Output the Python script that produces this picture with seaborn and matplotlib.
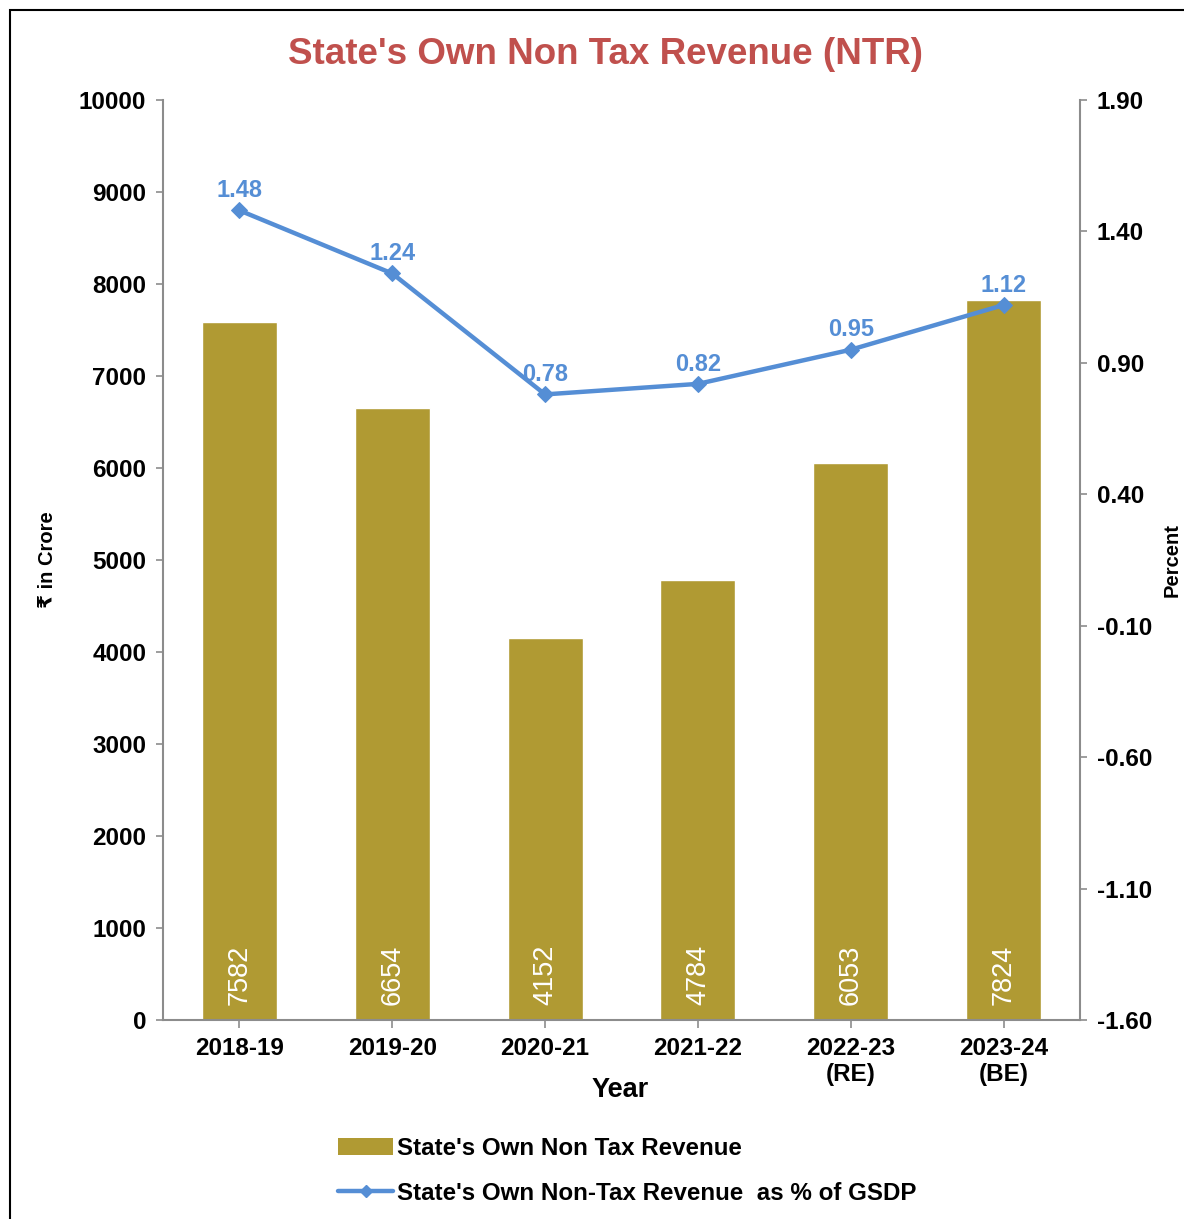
import matplotlib
matplotlib.use("Agg")
import matplotlib.pyplot as plt
import seaborn as sns
import numpy as np
import pandas as pd
from matplotlib.patches import Patch, Rectangle
from matplotlib.lines import Line2D

# data
years = ["2018-19", "2019-20", "2020-21", "2021-22", "2022-23\n(RE)", "2023-24\n(BE)"]
ntr_crore = [7582, 6654, 4152, 4784, 6053, 7824]
ntr_pct_gsdp = [1.48, 1.24, 0.78, 0.82, 0.95, 1.12]

BAR_COLOR = "#B09A33"
LINE_COLOR = "#558ED5"
TITLE_COLOR = "#C0504D"
SPINE_COLOR = "#8C8C8C"

sns.set_theme(style="white")
plt.rcParams["font.family"] = ["Liberation Sans", "DejaVu Sans"]

df = pd.DataFrame({"Year": years, "NTR": ntr_crore, "Pct": ntr_pct_gsdp})

fig = plt.figure(figsize=(11.84, 12.19), dpi=100)
ax = fig.add_axes([163 / 1184, 1 - 1020 / 1219, (1080 - 163) / 1184, 920 / 1219])

sns.barplot(data=df, x="Year", y="NTR", color=BAR_COLOR, width=0.49,
            saturation=1, ax=ax)
ax.set_xlim(-0.5, len(years) - 0.5)
ax.set_ylim(0, 10000)
ax.set_yticks(np.arange(0, 10001, 1000))

for i, v in enumerate(ntr_crore):
    ax.annotate(str(v), (i, 0), xytext=(0, 11), textcoords="offset points",
                rotation=90, ha="center", va="bottom", color="white",
                fontsize=19.5)

ax2 = ax.twinx()
sns.lineplot(x=np.arange(len(years)), y=ntr_pct_gsdp, color=LINE_COLOR,
             linewidth=3.2, marker="D", markersize=8, markeredgecolor=LINE_COLOR,
             ax=ax2)
ax2.set_ylim(-1.6, 1.9)
ax2.set_yticks(np.arange(-1.6, 1.91, 0.5))
ax2.set_yticklabels([f"{t:.2f}" for t in np.arange(-1.6, 1.91, 0.5)])
for i, v in enumerate(ntr_pct_gsdp):
    ax2.annotate(f"{v:.2f}", (i, v), xytext=(0, 6), textcoords="offset points",
                 ha="center", va="bottom", color=LINE_COLOR, fontsize=17,
                 fontweight="bold")

for a in (ax, ax2):
    for s in a.spines.values():
        s.set_visible(False)
ax.spines["left"].set_visible(True)
ax.spines["bottom"].set_visible(True)
ax2.spines["right"].set_visible(True)
for s in (ax.spines["left"], ax.spines["bottom"], ax2.spines["right"]):
    s.set_color(SPINE_COLOR)
    s.set_linewidth(1.5)

ax.tick_params(axis="y", which="both", left=True, length=5, width=1.2,
               color=SPINE_COLOR, pad=7, labelsize=17.5)
ax.tick_params(axis="x", bottom=True, length=6, width=1.2, color=SPINE_COLOR,
               pad=6, labelsize=17.5)
ax2.tick_params(axis="y", right=True, length=5, width=1.2, color=SPINE_COLOR,
                pad=7, labelsize=17.5)
for lab in ax.get_xticklabels() + ax.get_yticklabels() + ax2.get_yticklabels():
    lab.set_fontweight("bold")
    lab.set_color("black")

ax.set_xlabel("Year", fontsize=19.5, fontweight="bold", color="black")
ax.xaxis.set_label_coords((620 - 163) / 917, -(1077 - 1020) / 920)
ax.set_ylabel("₹ in Crore", fontsize=14.5, fontweight="bold", color="black",
              labelpad=16)
ax2.set_ylabel("")
fig.text(1172 / 1184, 1 - 560 / 1219, "Percent", rotation=90, ha="center",
         va="center", fontsize=14.5, fontweight="bold", color="black")

fig.text(605 / 1184, 1 - 54 / 1219, "State's Own Non Tax Revenue (NTR)",
         ha="center", va="center", color=TITLE_COLOR, fontsize=26.5,
         fontweight="bold")

handles = [
    Patch(facecolor=BAR_COLOR, edgecolor="none"),
    Line2D([0], [0], color=LINE_COLOR, linewidth=3.2, marker="D", markersize=6),
]
labels = ["State's Own Non Tax Revenue",
          "State's Own Non-Tax Revenue  as % of GSDP"]
leg = fig.legend(handles, labels, loc="upper left",
                 bbox_to_anchor=(316 / 1184, 1 - 1115 / 1219), frameon=False,
                 prop={"weight": "bold", "size": 17.4}, handlelength=2.3,
                 handletextpad=0.15, labelspacing=0.9)
for t in leg.get_texts():
    t.set_color("black")

fig.patches.append(Rectangle((10 / 1184, -0.1), 1.2, 1.1 - 10 / 1219,
                             transform=fig.transFigure, fill=False,
                             edgecolor="black", linewidth=1.5))

fig.savefig("out.png", dpi=100)
